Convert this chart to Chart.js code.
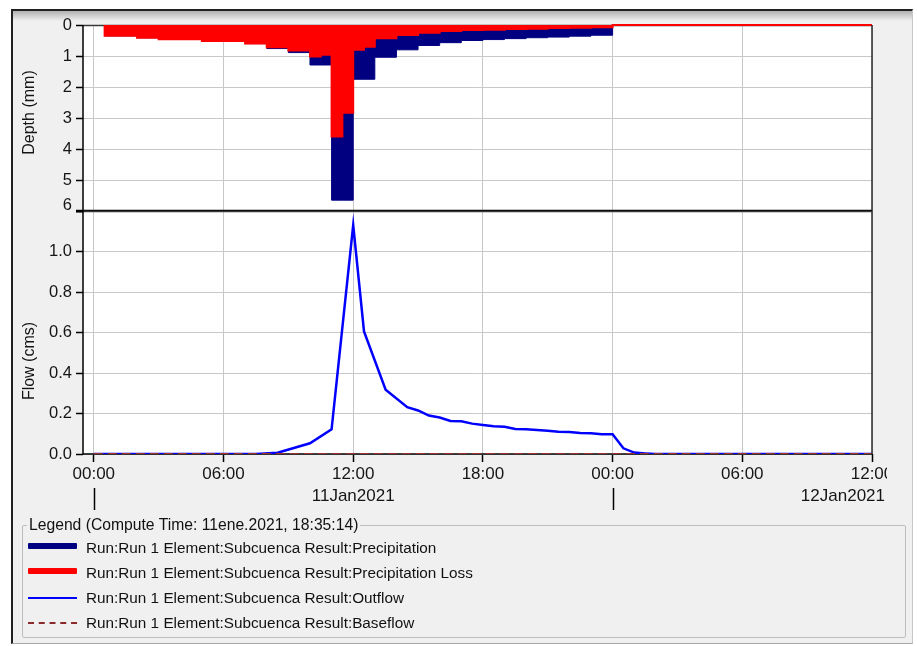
<!DOCTYPE html>
<html>
<head>
<meta charset="utf-8">
<script src="https://cdn.jsdelivr.net/npm/chart.js@4.4.1/dist/chart.umd.min.js"></script>
<style>
  html, body { margin:0; padding:0; width:917px; height:646px; overflow:hidden; background:#ffffff; }
  body { position:relative; font-family:"Liberation Sans", Arial, sans-serif; color:#111111; }
  #frame { position:absolute; left:11px; top:9px; width:902px; height:635px; box-sizing:border-box; background:#f0f0f0;
           border-top:2px solid #202020; border-left:2px solid #202020; border-right:1px solid #c8c8c8; border-bottom:1px solid #a8a8a8; }
  #shade { position:absolute; left:13px; top:11px; width:899px; height:10px; background:linear-gradient(#b0b0b0, #f0f0f0); }
  canvas { position:absolute; left:0; top:0; }
  #legendBox { position:absolute; left:22px; top:525px; width:884px; height:113px; box-sizing:border-box; border:1px solid #bcbcbc; border-radius:2px; }
  #legendTitle { position:absolute; left:4px; top:-10px; padding:0 2px; background:#f0f0f0; font-size:15.7px; line-height:18px; white-space:nowrap; }
  .lab { position:absolute; left:86px; font-size:15.3px; line-height:18px; white-space:nowrap; }
  .sw { position:absolute; left:28px; width:49px; }
</style>
</head>
<body>
<div id="frame"></div>
<div id="shade"></div>
<canvas id="cDepth" width="917" height="646"></canvas>
<canvas id="cFlow" width="887" height="646"></canvas>
<div id="legendBox"><div id="legendTitle">Legend (Compute Time: 11ene.2021, 18:35:14)</div></div>
<div class="sw" style="top:543px;height:6px;background:#000080;border-radius:1px;"></div>
<div class="lab" style="top:539px;">Run:Run 1 Element:Subcuenca Result:Precipitation</div>
<div class="sw" style="top:568px;height:6px;background:#ff0000;border-radius:1px;"></div>
<div class="lab" style="top:564px;">Run:Run 1 Element:Subcuenca Result:Precipitation Loss</div>
<div class="sw" style="top:597px;height:2px;background:#0000ff;"></div>
<div class="lab" style="top:589px;">Run:Run 1 Element:Subcuenca Result:Outflow</div>
<div class="sw" style="top:622px;height:0;border-top:2.5px dashed #8b2a2a;"></div>
<div class="lab" style="top:614px;">Run:Run 1 Element:Subcuenca Result:Baseflow</div>

<script>
// ---- axis ticks / labels ----
const xTickValues = [0, 6, 12, 18, 24, 30, 36];
const xTickLabels = ['00:00', '06:00', '12:00', '18:00', '00:00', '06:00', '12:00'];
const dayStartHours = [0, 24];
const dayLabels = ['11Jan2021', '12Jan2021'];
const depthTickValues = [0, 1, 2, 3, 4, 5, 6];
const depthTickLabels = ['0', '1', '2', '3', '4', '5', '6'];
const flowTickValues = [0, 0.2, 0.4, 0.6, 0.8, 1.0, 1.2];
const flowTickLabels = ['0.0', '0.2', '0.4', '0.6', '0.8', '1.0', ''];
const xMin = -0.5, xMax = 36;

// ---- precipitation (hours after 11Jan2021 00:00, depth mm per interval) ----
const precipStart = [0.5, 2, 3, 5, 7, 8, 9, 10, 10.5, 11, 11.5, 12, 12.5, 13, 14, 15, 16, 17, 18, 19, 20, 21, 22, 23];
const precipDepth = [0.35, 0.41, 0.46, 0.52, 0.6, 0.76, 0.89, 1.29, 1.29, 5.65, 5.65, 1.75, 1.75, 1.04, 0.8, 0.66, 0.57, 0.5, 0.47, 0.44, 0.41, 0.39, 0.36, 0.33];
const lossDepth   = [0.35, 0.41, 0.46, 0.52, 0.6, 0.72, 0.82, 1.02, 0.96, 3.6, 2.83, 0.8, 0.7, 0.43, 0.32, 0.25, 0.19, 0.16, 0.15, 0.13, 0.12, 0.1, 0.09, 0.07];
const precipEnd = 24;

// ---- flow (cms) ----
const flowTime = [0, 7.5, 8.5, 10, 11, 12, 12.5, 13.5, 14.5, 15, 15.5, 16, 16.5, 17, 17.5, 18, 18.5, 19, 19.5, 20, 20.5, 21, 21.5, 22, 22.5, 23, 23.5, 24, 24.5, 25, 25.5, 26, 36];
const outflow  = [0, 0, 0.006, 0.053, 0.122, 1.13, 0.605, 0.317, 0.231, 0.215, 0.19, 0.18, 0.163, 0.162, 0.15, 0.143, 0.137, 0.135, 0.124, 0.122, 0.119, 0.115, 0.11, 0.109, 0.104, 0.102, 0.097, 0.097, 0.028, 0.007, 0.003, 0, 0];
const baseTime = [0, 36];
const baseflow = [0, 0];

const FONT = '"Liberation Sans", Arial, sans-serif';
const TXT = '#151515';
const GRID = '#c8c8c8';
Chart.defaults.font.family = FONT;
Chart.defaults.color = TXT;

function stepData(starts, vals) {
  const pts = [{x: starts[0], y: 0}];
  starts.forEach((t, i) => pts.push({x: t, y: vals[i]}));
  pts.push({x: precipEnd, y: 0});
  pts.push({x: xMax, y: 0});
  return pts;
}
function xy(xs, ys) { return xs.map((x, i) => ({x: x, y: ys[i]})); }

function xScale(showTicks) {
  return {
    type: 'linear', min: xMin, max: xMax,
    afterBuildTicks: s => { s.ticks = xTickValues.map(v => ({value: v})); },
    ticks: { display: showTicks, autoSkip: false, maxRotation: 0, padding: 2, color: TXT, font: {size: 17},
             callback: (v, i) => xTickLabels[i] },
    grid: { color: GRID, lineWidth: 1, drawTicks: showTicks, tickLength: 8, tickColor: '#000', tickWidth: 1.5 },
    border: { display: false },
    afterFit: s => { s.height = showTicks ? 60 : 0; s.paddingLeft = 0; s.paddingRight = 0; }
  };
}
function yScale(vals, labels, extra) {
  return Object.assign({
    type: 'linear', position: 'left',
    afterBuildTicks: s => { s.ticks = vals.map(v => ({value: v})); },
    ticks: { padding: 4, color: TXT, font: {size: 16.5}, callback: (v, i) => labels[i] },
    grid: { color: GRID, lineWidth: 1, tickLength: 7, tickColor: '#000', tickWidth: 1.5 },
    border: { display: false },
    afterFit: s => { s.width = 83; s.paddingTop = 0; s.paddingBottom = 0; }
  }, extra);
}

const plotFrame = {
  id: 'plotFrame',
  beforeDraw(c) {
    const a = c.chartArea, ctx = c.ctx;
    ctx.save(); ctx.fillStyle = '#ffffff';
    ctx.fillRect(a.left, a.top, a.right - a.left, a.bottom - a.top); ctx.restore();
  },
  beforeDatasetsDraw(c, args, o) {
    const a = c.chartArea, ctx = c.ctx;
    ctx.save();
    ctx.strokeStyle = '#3a3a3a'; ctx.lineWidth = 1.5;
    ctx.beginPath(); ctx.moveTo(a.left, a.top + 0.5); ctx.lineTo(a.right, a.top + 0.5); ctx.stroke();
    if (o.bottomAxis) {
      ctx.strokeStyle = '#000'; ctx.lineWidth = 1.5;
      ctx.beginPath(); ctx.moveTo(a.left, a.bottom); ctx.lineTo(a.right, a.bottom); ctx.stroke();
    }
    ctx.restore();
  },
  afterDraw(c, args, o) {
    const a = c.chartArea, ctx = c.ctx;
    ctx.save();
    ctx.strokeStyle = '#000'; ctx.lineWidth = 1.5;
    ctx.beginPath(); ctx.moveTo(a.left, a.top); ctx.lineTo(a.left, a.bottom); ctx.stroke();
    ctx.strokeStyle = '#2a2a2a'; ctx.lineWidth = 1.5;
    ctx.beginPath(); ctx.moveTo(a.right, a.top); ctx.lineTo(a.right, a.bottom); ctx.stroke();
    if (o.divider) {
      ctx.strokeStyle = '#000'; ctx.lineWidth = 2.5;
      ctx.beginPath(); ctx.moveTo(a.left - 7, a.bottom); ctx.lineTo(a.right, a.bottom); ctx.stroke();
    }
    // rotated axis title
    const s = c.scales.y;
    ctx.translate(o.titleX, (s.top + s.bottom) / 2 + o.titleDy);
    ctx.rotate(-Math.PI / 2);
    ctx.font = '16px ' + FONT; ctx.fillStyle = TXT; ctx.textAlign = 'center'; ctx.textBaseline = 'middle';
    ctx.fillText(o.title, 0, 0);
    ctx.restore();
    if (o.lastLabel) {
      // last depth label sits just above the divider
      ctx.save();
      ctx.font = '16.5px ' + FONT; ctx.fillStyle = TXT; ctx.textAlign = 'right'; ctx.textBaseline = 'middle';
      const v = depthTickValues[depthTickValues.length - 1];
      ctx.fillText(depthTickLabels[depthTickLabels.length - 1], a.left - 11, s.getPixelForValue(v) - 6);
      ctx.restore();
    }
    if (o.days) {
      const x = c.scales.x;
      ctx.save();
      ctx.font = '17px ' + FONT; ctx.fillStyle = TXT; ctx.textAlign = 'center'; ctx.textBaseline = 'middle';
      dayStartHours.forEach((h, i) => {
        const px = Math.round(x.getPixelForValue(h)) + 0.5;
        ctx.strokeStyle = '#000'; ctx.lineWidth = 1.5;
        ctx.beginPath(); ctx.moveTo(px, a.bottom + 34); ctx.lineTo(px, a.bottom + 56); ctx.stroke();
        const w = ctx.measureText(dayLabels[i]).width;
        const cx = Math.min(x.getPixelForValue(h + 12), c.width - 2 - w / 2);
        ctx.fillText(dayLabels[i], cx, a.bottom + 42);
      });
      ctx.restore();
    }
  }
};

new Chart(document.getElementById('cDepth'), {
  type: 'line',
  data: {
    datasets: [
      { label: 'Precipitation Loss', data: stepData(precipStart, lossDepth), stepped: true,
        borderColor: '#ff0000', backgroundColor: '#ff0000', borderWidth: 2, fill: 'origin', pointRadius: 0,
        clip: {left: 0, top: 1, right: 0, bottom: 0} },
      { label: 'Precipitation', data: stepData(precipStart, precipDepth), stepped: true,
        borderColor: '#000080', backgroundColor: '#000080', borderWidth: 1, fill: 'origin', pointRadius: 0 }
    ]
  },
  options: {
    responsive: false, animation: false, devicePixelRatio: 1,
    layout: { padding: { top: 25, bottom: 435, left: 0, right: 45 } },
    plugins: { legend: { display: false }, tooltip: { enabled: false },
               plotFrame: { divider: true, title: 'Depth (mm)', titleX: 30, titleDy: -5.5, lastLabel: true } },
    scales: {
      x: xScale(false),
      y: yScale(depthTickValues, depthTickLabels.map((l, i) => i === depthTickLabels.length - 1 ? '' : l),
                { reverse: true, min: 0, max: 6 })
    }
  },
  plugins: [plotFrame]
});

new Chart(document.getElementById('cFlow'), {
  type: 'line',
  data: {
    datasets: [
      { label: 'Baseflow', data: xy(baseTime, baseflow), borderColor: '#a03232', borderWidth: 2,
        borderDash: [9, 5], pointRadius: 0, fill: false },
      { label: 'Outflow', data: xy(flowTime, outflow), borderColor: '#0000ff', borderWidth: 2.5,
        pointRadius: 0, fill: false, tension: 0 }
    ]
  },
  options: {
    responsive: false, animation: false, devicePixelRatio: 1,
    layout: { padding: { top: 211, bottom: 132, left: 0, right: 15 } },
    plugins: { legend: { display: false }, tooltip: { enabled: false },
               plotFrame: { bottomAxis: true, title: 'Flow (cms)', titleX: 30, titleDy: 28.5, days: true } },
    scales: {
      x: xScale(true),
      y: yScale(flowTickValues, flowTickLabels, { min: 0, max: 1.2 })
    }
  },
  plugins: [plotFrame]
});
</script>
</body>
</html>
